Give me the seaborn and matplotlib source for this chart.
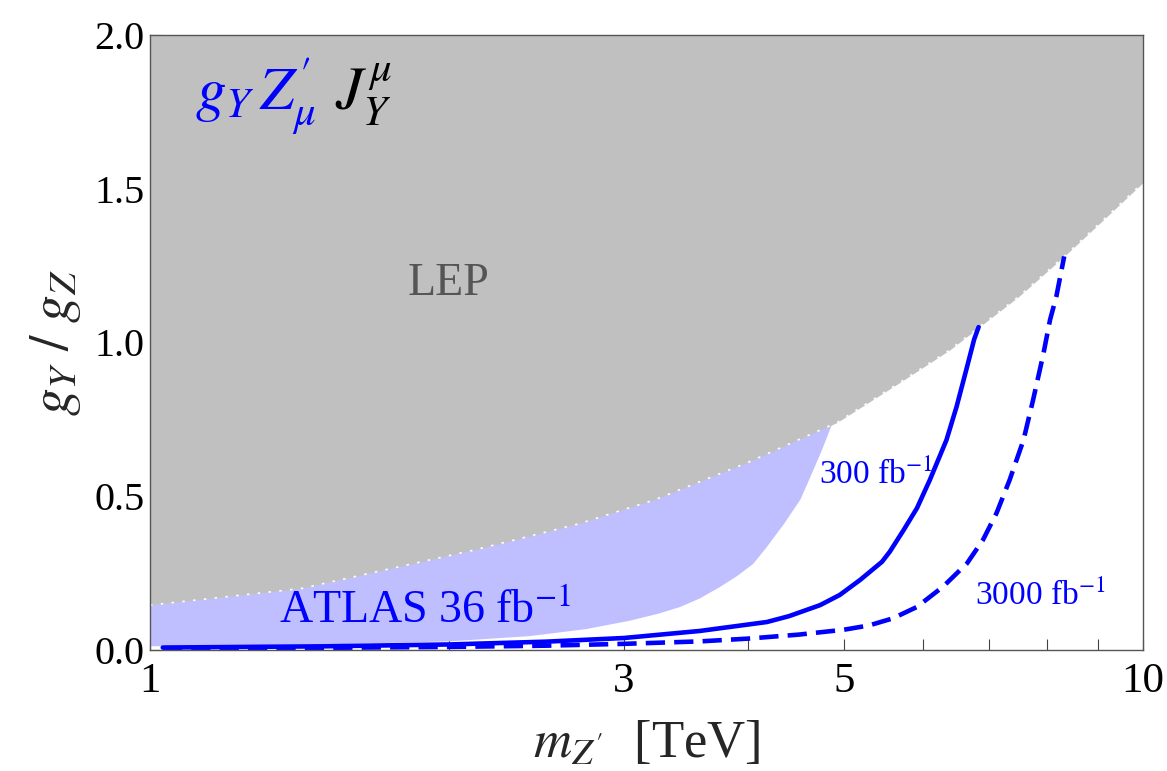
import numpy as np
import pandas as pd
import matplotlib
matplotlib.use("Agg")
import matplotlib.pyplot as plt
import seaborn as sns
from matplotlib.ticker import FixedLocator, NullFormatter, MultipleLocator

# ---------------- data ----------------
lep_x = [1.0, 1.42, 2.12, 2.7, 3.22, 4.0, 4.92, 5.69, 6.39, 6.84, 7.5, 8.33, 9.2, 10.0]
lep_y = [0.146, 0.20, 0.325, 0.41, 0.488, 0.61, 0.74, 0.87, 0.976, 1.05, 1.15, 1.28, 1.41, 1.52]

# ATLAS 36 fb^-1 excluded region: lower/right boundary (upper boundary = LEP)
atlas_x = [1.0, 1.5, 2.0, 2.41, 2.75, 3.04, 3.25, 3.42, 3.58, 3.75, 3.9, 4.05, 4.18, 4.35, 4.52, 4.62, 4.75, 4.87]
atlas_y = [0.012, 0.018, 0.028, 0.045, 0.068, 0.095, 0.118, 0.14, 0.168, 0.205, 0.24, 0.28, 0.335, 0.41, 0.49, 0.56, 0.65, 0.74]

hl300_x = [1.03, 1.5, 2.0, 2.5, 3.0, 3.58, 4.18, 4.4, 4.73, 4.95, 5.19, 5.46, 5.56, 5.74, 5.92, 6.10, 6.34, 6.49, 6.65, 6.76, 6.83]
hl300_y = [0.008, 0.012, 0.018, 0.027, 0.039, 0.062, 0.091, 0.11, 0.146, 0.179, 0.228, 0.287, 0.32, 0.39, 0.461, 0.553, 0.683, 0.791, 0.921, 1.01, 1.05]

hl3000_x = [1.03, 1.5, 2.0, 2.5, 3.0, 3.58, 4.0, 4.5, 5.0, 5.3, 5.6, 5.92, 6.29, 6.65, 6.90, 7.12, 7.34, 7.58, 7.75, 7.94, 8.06, 8.18, 8.33]
hl3000_y = [0.004, 0.007, 0.010, 0.014, 0.020, 0.028, 0.037, 0.05, 0.066, 0.08, 0.103, 0.14, 0.206, 0.282, 0.358, 0.445, 0.553, 0.683, 0.813, 0.965, 1.073, 1.15, 1.28]

x_ticks = [1, 3, 5, 10]
x_ticklabels = ["1", "3", "5", "10"]
x_minor = [2, 4, 6, 7, 8, 9]
y_ticks = [0.0, 0.5, 1.0, 1.5, 2.0]
y_ticklabels = ["0.0", "0.5", "1.0", "1.5", "2.0"]

GRAY = "#c0c0c0"
LIGHTBLUE = "#bfbfff"
BLUE = "#0000ff"

sns.set_theme(style="white")
plt.rcParams["font.family"] = ["Liberation Serif", "DejaVu Serif"]
plt.rcParams["mathtext.fontset"] = "stix"

fig = plt.figure(figsize=(11.67, 7.71), dpi=100)
ax = fig.add_axes([150 / 1167, 1 - 650 / 771, (1143 - 150) / 1167, (650 - 35) / 771])
ax.set_xscale("log")
ax.set_xlim(1, 10)
ax.set_ylim(0, 2.0)

# ATLAS region polygon: LEP boundary up to ~4.92 then back along the ATLAS edge
n_up = 7
poly_x = lep_x[:n_up] + atlas_x[::-1]
poly_y = lep_y[:n_up] + atlas_y[::-1]
ax.fill(poly_x, poly_y, color=LIGHTBLUE, lw=0, zorder=1)

# LEP excluded region
ax.fill_between(lep_x, lep_y, 2.0, color=GRAY, lw=0, zorder=2)
ax.plot(lep_x, lep_y, color="white", lw=1.2, ls=(0, (1.5, 5)), zorder=3)

# HL-LHC projections
df300 = pd.DataFrame({"m": hl300_x, "g": hl300_y})
df3000 = pd.DataFrame({"m": hl3000_x, "g": hl3000_y})
sns.lineplot(data=df300, x="m", y="g", ax=ax, color=BLUE, lw=3.3, sort=False, zorder=4,
             solid_joinstyle="round")
sns.lineplot(data=df3000, x="m", y="g", ax=ax, color=BLUE, lw=3.3, sort=False, zorder=4,
             linestyle=(0, (4.2, 2.0)), dash_capstyle="butt")

# ticks
ax.xaxis.set_major_locator(FixedLocator(x_ticks))
ax.set_xticklabels(x_ticklabels)
ax.xaxis.set_minor_locator(FixedLocator(x_minor))
ax.xaxis.set_minor_formatter(NullFormatter())
ax.yaxis.set_major_locator(FixedLocator(y_ticks))
ax.set_yticklabels(y_ticklabels)
ax.yaxis.set_minor_locator(MultipleLocator(0.1))
ax.tick_params(axis="both", which="both", direction="in", length=8, width=0.8,
               color="#444444", labelcolor="black", top=False, right=False,
               left=True, bottom=True)
ax.tick_params(axis="x", which="major", pad=9, labelsize=31)
ax.tick_params(axis="y", which="major", pad=4, labelsize=29)
for s in ax.spines.values():
    s.set_color("#555555")
    s.set_linewidth(1.0)
    s.set_zorder(10)

ax.set_xlabel(r"$m_{Z^{\prime}}$  [TeV]", fontsize=38, labelpad=14)
ax.set_ylabel(r"$g_Y\ /\ g_Z$", fontsize=40, labelpad=8)

# annotations
ax.text(2.0, 1.19, "LEP", color="#555555", fontsize=33, ha="center", va="center", zorder=5)
ax.text(1.35, 0.09, r"ATLAS 36 fb$^{-1}$", color=BLUE, fontsize=33, ha="left",
        va="baseline", zorder=5)
ax.text(4.72, 0.54, r"300 fb$^{-1}$", color=BLUE, fontsize=24, ha="left", va="baseline", zorder=5)
ax.text(6.77, 0.146, r"3000 fb$^{-1}$", color=BLUE, fontsize=24, ha="left", va="baseline", zorder=5)
ax.text(1.11, 1.756, r"$g_Y\,Z^{\prime}_{\mu}$", color=BLUE, fontsize=44, ha="left",
        va="baseline", zorder=5)
ax.text(1.535, 1.756, r"$J^{\mu}_{Y}$", color="black", fontsize=44, ha="left",
        va="baseline", zorder=5)

fig.savefig("out.png", dpi=100)
